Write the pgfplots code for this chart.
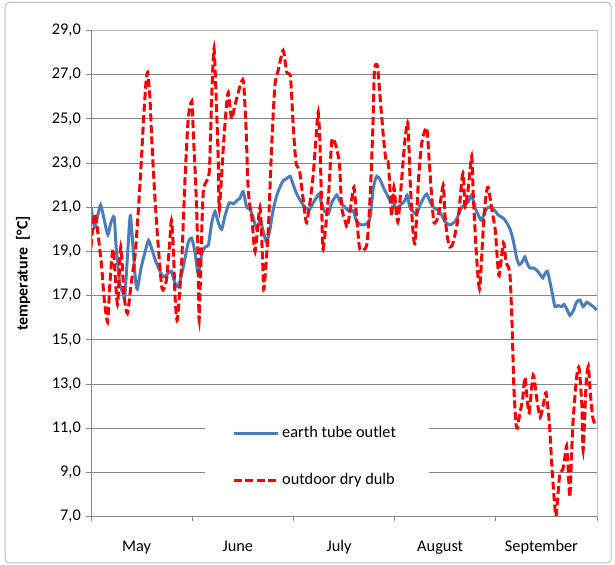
\documentclass[border=0pt]{standalone}
\usepackage{pgfplots}
\pgfplotsset{compat=1.18}
\usepackage{fontspec}
\setmainfont{Carlito}
\definecolor{xlblue}{RGB}{74,126,187}
\definecolor{gridgray}{RGB}{134,134,134}
\definecolor{framegray}{RGB}{190,190,190}
\begin{document}
\begin{tikzpicture}[x=1bp,y=1bp]
\useasboundingbox (0,0) rectangle (615,565);
\draw[framegray, line width=1bp, rounded corners=4bp] (5,2) rectangle (611,562.5);
\begin{axis}[
  at={(91bp,48.5bp)}, anchor=south west,
  scale only axis, width=506bp, height=486bp,
  xmin=0, xmax=153, ymin=7, ymax=29,
  ytick={7,9,11,13,15,17,19,21,23,25,27,29},
  xtick={0,30.6,61.2,91.8,122.4,153},
  xticklabels={May,June,July,August,September},
  x tick label as interval,
  xtick pos=bottom, ytick pos=left,
  tick align=outside, major tick length=5bp,
  tick style={gridgray, line width=0.8bp},
  ymajorgrids, major grid style={gridgray, line width=0.8bp},
  axis line style={framegray, line width=0.8bp},
  tick label style={font=\fontsize{16.4}{19}\selectfont},
  /pgf/number format/.cd, fixed, fixed zerofill, precision=1, use comma, assume math mode=true,
  /pgfplots/.cd,
  yticklabel style={anchor=east, inner sep=0pt, xshift=-5bp},
  xticklabel style={anchor=base, yshift=-30bp, xshift=-5bp},
  ylabel={\bfseries temperature\ \ [°C]},
  every axis y label/.style={at={(rel axis cs:0,0.5)}, xshift=-68bp, rotate=90, anchor=center, font=\fontsize{16}{19}\selectfont},
  legend style={at={(rel axis cs:0.2253,0.2356)}, anchor=north west, fill=none, draw=none,
    inner xsep=27bp, inner ysep=20bp, row sep=25bp, column sep=0pt,
    nodes={text height=12bp, text depth=4bp, inner sep=3bp},
    font=\fontsize{16.4}{19}\selectfont, cells={anchor=west}},
  legend image code/.code={\draw[#1] (0bp,0bp) -- (44bp,0bp);},
  after end axis/.code={
    \draw[gridgray, line width=0.8bp] (rel axis cs:0,0) -- (rel axis cs:0,1);
    \draw[gridgray, line width=0.8bp] (rel axis cs:0,0) -- (rel axis cs:1,0);
  },
]
\fill[white] (axis cs:34.5,7.3) rectangle (axis cs:102.2,12.36);
\addplot[xlblue, line width=3bp, smooth, tension=0.4] coordinates {
(0,21.0) (1.1,20.1) (2.0,20.6) (2.9,21.1) (3.9,20.5) (5.1,19.75) (6.0,20.3) (7.0,20.55)
(7.6,19.2) (8.7,17.55) (9.7,17.1) (10.2,16.9) (10.9,18.5) (11.7,20.4) (12.0,20.55) (12.7,19.2)
(13.4,17.8) (14.0,17.3) (15.2,18.3) (16.4,19.0) (17.4,19.5) (18.4,19.1) (19.7,18.5) (21.8,17.85)
(23.3,18.0) (24.3,18.1) (25.1,17.7) (26.4,17.4) (27.9,18.3) (29.4,19.4) (30.4,19.6) (31.4,19.0)
(32.4,18.0) (33.5,18.9) (34.5,19.2) (35.5,19.3) (36.5,20.3) (37.5,20.8) (38.5,20.3) (39.5,20.0)
(40.5,20.6) (41.8,21.2) (43.0,21.15) (44.1,21.3) (45.0,21.4) (46.0,21.7) (47.1,21.0) (48.1,20.9)
(49.1,20.5) (50.1,20.0) (51.1,20.4) (52.1,19.9) (53.1,19.4) (54.1,20.0) (55.1,20.9) (56.1,21.5)
(57.1,21.9) (58.1,22.2) (59.2,22.3) (60.2,22.4) (61.2,22.0) (62.2,21.6) (63.7,21.2) (64.7,21.0)
(66.0,20.9) (67.2,21.2) (68.2,21.45) (69.0,21.6) (69.8,21.1) (70.7,20.8) (71.8,20.7) (72.8,21.2)
(74.3,21.55) (75.3,21.25) (76.8,21.0) (78.3,20.8) (79.3,20.85) (80.3,20.35) (81.8,20.2) (83.4,20.25)
(84.4,20.55) (85.4,21.9) (86.4,22.4) (87.4,22.25) (88.4,21.9) (89.4,21.6) (90.4,21.3) (91.4,21.2)
(92.4,20.95) (93.6,21.1) (94.9,21.3) (95.6,21.55) (96.4,21.0) (97.4,20.8) (98.5,20.7) (99.5,21.1)
(100.5,21.4) (101.5,21.6) (102.5,21.25) (103.5,21.0) (105.0,20.85) (106.0,20.65) (107.0,20.35) (108.5,20.2)
(110.1,20.35) (111.1,20.65) (112.1,21.0) (113.1,21.1) (114.1,21.25) (115.1,21.55) (116.1,21.0) (117.1,20.65)
(118.1,20.4) (119.1,20.8) (120.1,21.0) (121.1,20.95) (122.1,20.85) (123.1,20.65) (124.7,20.5) (125.7,20.3)
(126.7,20.0) (127.5,19.6) (128.2,19.1) (128.7,18.7) (129.5,18.4) (130.5,18.55) (131.2,18.75) (131.9,18.45)
(132.7,18.25) (133.7,18.25) (134.8,18.15) (135.8,17.95) (136.6,17.8) (137.3,18.0) (138.0,18.1) (138.8,17.6)
(139.6,17.0) (140.3,16.5) (141.3,16.55) (142.3,16.5) (143.0,16.6) (144.0,16.35) (144.8,16.1) (145.8,16.3)
(146.8,16.7) (147.8,16.8) (148.8,16.5) (149.9,16.7) (150.9,16.6) (151.9,16.5) (152.9,16.35)
};
\addlegendentry{earth tube outlet}
\addplot[red, line width=3bp, dash pattern=on 8bp off 3.5bp, smooth, tension=0.4] coordinates {
(0,19.2) (1.2,20.7) (3.1,18.5) (3.9,17.0) (5.0,15.8) (5.7,17.5) (6.7,19.1) (8.0,16.6)
(9.0,19.2) (10.0,17.0) (11.0,16.2) (12.2,17.6) (13.3,18.8) (14.2,20.6) (15.1,22.8) (15.9,25.0)
(16.6,26.6) (17.1,27.1) (17.8,26.0) (18.4,24.0) (19.3,21.5) (20.3,19.3) (21.5,17.3) (22.8,17.7)
(23.8,19.4) (24.3,20.4) (24.9,19.2) (25.4,17.0) (26.1,15.9) (27.4,18.5) (28.4,22.2) (29.4,25.0)
(30.5,25.8) (30.9,24.5) (31.8,21.5) (32.4,18.5) (32.7,15.9) (33.5,20.0) (34.0,21.8) (35.0,22.2)
(35.8,22.7) (36.5,26.0) (37.2,28.2) (38.0,25.3) (38.5,23.0) (38.8,20.9) (40.0,23.7) (40.8,25.3)
(41.5,26.2) (42.5,25.0) (43.5,25.6) (45.1,26.5) (46.1,26.7) (46.9,24.5) (47.4,22.2) (47.9,21.2)
(48.6,20.6) (49.6,19.0) (51.1,21.0) (51.9,18.5) (52.3,17.3) (53.6,20.0) (54.6,23.7) (55.6,26.5)
(56.6,27.2) (58.1,28.1) (59.2,27.1) (60.2,27.0) (60.7,26.0) (61.2,24.5) (62.0,23.0) (63.0,22.7)
(63.7,21.9) (64.7,20.7) (65.2,20.3) (66.2,21.2) (67.2,22.5) (68.2,24.5) (68.7,25.3) (69.2,24.0)
(69.8,20.7) (70.2,19.1) (71.8,21.5) (72.8,24.0) (73.8,23.9) (75.1,23.0) (75.8,21.0) (76.8,20.4)
(77.5,20.1) (78.5,21.0) (79.5,21.9) (80.3,20.6) (81.3,19.1) (83.4,19.3) (84.4,21.5) (85.2,24.5)
(85.7,27.2) (86.6,27.4) (87.4,26.0) (88.4,24.2) (89.2,23.1) (89.9,23.0) (90.4,21.8) (90.9,20.6)
(91.6,21.9) (92.4,20.6) (92.9,20.4) (93.9,22.2) (94.9,24.0) (95.8,24.8) (96.5,22.2) (97.3,20.0)
(98.0,19.4) (99.0,22.2) (100.0,23.9) (101.5,24.6) (102.3,23.0) (103.0,21.5) (103.7,20.3) (105.0,20.6)
(106.5,22.0) (107.0,20.7) (107.7,19.7) (108.5,19.2) (109.5,19.4) (111.1,20.6) (112.1,22.2) (112.6,22.5)
(113.1,21.0) (114.1,21.9) (115.1,23.3) (115.6,21.5) (116.4,19.2) (117.1,17.7) (117.6,17.4) (118.6,20.0)
(119.4,21.5) (120.1,21.9) (121.2,20.9) (122.2,20.0) (122.8,18.8) (123.4,17.9) (124.7,19.4) (125.5,18.5)
(126.2,18.3) (126.7,17.9) (127.2,16.2) (127.5,14.7) (127.9,12.7) (128.5,11.2) (128.9,11.0) (129.7,11.7)
(130.5,12.3) (131.2,13.3) (131.9,12.3) (132.5,11.7) (133.7,13.4) (134.8,12.3) (135.8,11.5) (136.8,12.1)
(137.6,12.6) (138.6,11.2) (139.3,9.4) (140.0,7.9) (140.6,7.0) (141.3,8.2) (141.8,9.0) (142.6,9.1)
(143.3,9.7) (143.8,10.2) (144.3,9.1) (144.8,7.9) (145.6,10.9) (146.3,12.4) (147.0,13.5) (147.6,13.7)
(148.4,12.1) (148.8,10.0) (149.7,13.0) (150.4,13.8) (150.9,12.7) (151.7,11.5) (152.4,11.2) (153.0,11.2)
};
\addlegendentry{outdoor dry dulb}
\end{axis}
\end{tikzpicture}
\end{document}
